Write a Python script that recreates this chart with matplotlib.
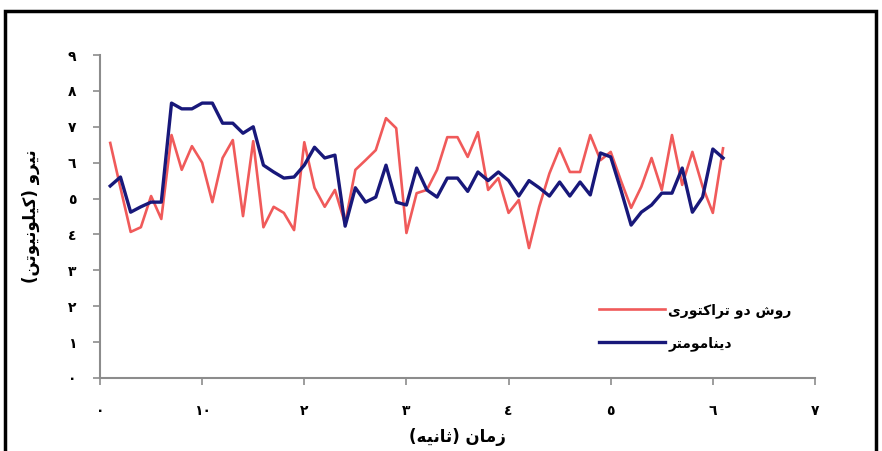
import matplotlib
matplotlib.use("Agg")
import matplotlib.pyplot as plt
from matplotlib.patches import Rectangle

# شکل دادن حروف فارسی (matplotlib خودش حروف را به هم نمی چسباند)
FORMS = {
    'ا': ('\uFE8D', '\uFE8E', None, None),
    'ت': ('\uFE95', '\uFE96', '\uFE97', '\uFE98'),
    'ث': ('\uFE99', '\uFE9A', '\uFE9B', '\uFE9C'),
    'د': ('\uFEA9', '\uFEAA', None, None),
    'ر': ('\uFEAD', '\uFEAE', None, None),
    'ز': ('\uFEAF', '\uFEB0', None, None),
    'ش': ('\uFEB5', '\uFEB6', '\uFEB7', '\uFEB8'),
    'ک': ('\uFB8E', '\uFB8F', '\uFB90', '\uFB91'),
    'ل': ('\uFEDD', '\uFEDE', '\uFEDF', '\uFEE0'),
    'م': ('\uFEE1', '\uFEE2', '\uFEE3', '\uFEE4'),
    'ن': ('\uFEE5', '\uFEE6', '\uFEE7', '\uFEE8'),
    'ه': ('\uFEE9', '\uFEEA', '\uFEEB', '\uFEEC'),
    'و': ('\uFEED', '\uFEEE', None, None),
    'ی': ('\uFBFC', '\uFBFD', '\uFBFE', '\uFBFF'),
}


def fa(text):
    out = []
    for i, ch in enumerate(text):
        if ch not in FORMS:
            out.append(ch)
            continue
        prev = text[i - 1] if i > 0 else ''
        nxt = text[i + 1] if i + 1 < len(text) else ''
        joins_prev = prev in FORMS and FORMS[prev][2] is not None
        joins_next = nxt in FORMS and FORMS[ch][2] is not None
        iso, fin, ini, med = FORMS[ch]
        if joins_prev and joins_next:
            out.append(med)
        elif joins_prev:
            out.append(fin)
        elif joins_next:
            out.append(ini)
        else:
            out.append(iso)
    vis = ''.join(reversed(out))
    return vis.translate(str.maketrans('()', ')('))


# داده ها
time_s = [0.1 + 0.1 * i for i in range(61)]
tractor = [6.55, 5.3, 4.07, 4.2, 5.07, 4.43, 6.77, 5.8, 6.46, 6.0,
           4.9, 6.13, 6.63, 4.51, 6.6, 4.2, 4.77, 4.6, 4.12, 6.57,
           5.3, 4.77, 5.24, 4.3, 5.8, 6.07, 6.35, 7.24, 6.96, 4.04,
           5.15, 5.24, 5.8, 6.71, 6.71, 6.16, 6.85, 5.24, 5.57, 4.6,
           4.96, 3.62, 4.77, 5.7, 6.4, 5.74, 5.74, 6.77, 6.07, 6.3,
           5.5, 4.74, 5.33, 6.13, 5.24, 6.77, 5.38, 6.3, 5.33, 4.6,
           6.4]
dyno = [5.35, 5.6, 4.62, 4.77, 4.9, 4.9, 7.66, 7.5, 7.5, 7.66,
        7.66, 7.1, 7.1, 6.82, 7.0, 5.93, 5.74, 5.57, 5.6, 5.93,
        6.43, 6.13, 6.21, 4.23, 5.3, 4.9, 5.04, 5.93, 4.9, 4.82,
        5.85, 5.24, 5.04, 5.57, 5.57, 5.2, 5.74, 5.5, 5.74, 5.5,
        5.07, 5.5, 5.3, 5.07, 5.46, 5.07, 5.46, 5.1, 6.27, 6.16,
        5.24, 4.26, 4.62, 4.82, 5.15, 5.15, 5.85, 4.62, 5.04, 6.38,
        6.13]

x_ticks = [0, 1, 2, 3, 4, 5, 6, 7]
x_labels = ['٠', '١٠', '٢', '٣', '٤', '٥', '٦', '٧']
y_ticks = list(range(10))
y_labels = ['٠', '١', '٢', '٣', '٤', '٥', '٦', '٧', '٨', '٩']

plt.rcParams['font.family'] = ['DejaVu Sans']

fig = plt.figure(figsize=(8.82, 4.51), dpi=100)
ax = fig.add_axes([0.1134, 0.162, 0.8106, 0.716])

ax.plot(time_s, tractor, color='#f05a5a', lw=1.9, label=fa('روش دو تراکتوری'))
ax.plot(time_s, dyno, color='#18187a', lw=2.4, label=fa('دینامومتر'))

ax.set_xlim(0, 7)
ax.set_ylim(0, 9)
ax.set_xticks(x_ticks)
ax.set_xticklabels(x_labels, fontweight='bold', fontsize=10)
ax.set_yticks(y_ticks)
ax.set_yticklabels(y_labels, fontweight='bold', fontsize=10)
ax.tick_params(axis='x', direction='out', length=5, width=1.2, color='#8c8c8c', pad=14)
ax.tick_params(axis='y', direction='out', length=5, width=1.2, color='#8c8c8c', pad=12)

for s in ['top', 'right']:
    ax.spines[s].set_visible(False)
for s in ['left', 'bottom']:
    ax.spines[s].set_color('#8c8c8c')
    ax.spines[s].set_linewidth(1.5)

ax.set_xlabel(fa('زمان (ثانیه)'), fontsize=12, fontweight='bold', labelpad=7)
ax.set_ylabel(fa('نیرو (کیلونیوتن)'), fontsize=12, fontweight='bold', labelpad=20)

ax.legend(loc='upper left', bbox_to_anchor=(0.68, 0.27), frameon=False,
          handlelength=4.8, handletextpad=0.2, labelspacing=1.3,
          prop={'weight': 'bold', 'size': 10})

fig.patches.append(Rectangle((5 / 882, -0.1), 871 / 882, 1.1 - 11 / 451,
                             transform=fig.transFigure, fill=False,
                             edgecolor='black', lw=2.5))

fig.savefig('out.png', dpi=100)
